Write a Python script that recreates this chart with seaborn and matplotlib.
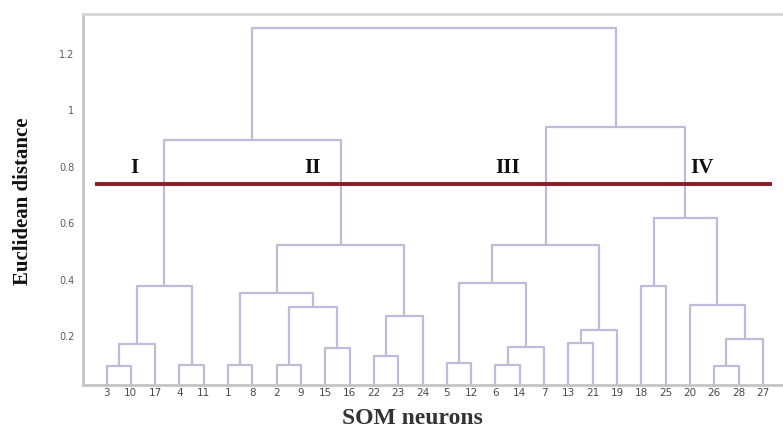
import matplotlib
matplotlib.use("Agg")
import matplotlib.pyplot as plt
import seaborn as sns
import pandas as pd

# ---- data ----
leaf_labels = [3, 10, 17, 4, 11, 1, 8, 2, 9, 15, 16, 22, 23, 24,
               5, 12, 6, 14, 7, 13, 21, 19, 18, 25, 20, 26, 28, 27]
# merges: children (leaf label as int, or earlier merge name) and height
merge_names = ["m1", "m2", "m3", "m4", "m5", "m6", "m7", "m8", "m9", "m10",
               "m11", "m12", "m13", "m14", "m15", "m16", "m17", "m18", "m19",
               "m20", "m21", "m22", "m23", "m24", "m25", "m26", "m27"]
merge_left = [3, "m1", 4, "m2", 1, 2, 15, "m6", "m5", 22,
              "m10", "m9", "m4", 5, 6, "m15", "m14", 13, "m18",
              "m17", 18, 26, "m22", 20, "m21", "m20", "m13"]
merge_right = [10, 17, 11, "m3", 8, 9, 16, "m7", "m8", 23,
               24, "m11", "m12", 12, 14, 7, "m16", 21, 19,
               "m19", 25, 28, 27, "m23", "m24", "m25", "m26"]
merge_height = [0.094, 0.172, 0.099, 0.377, 0.097, 0.097, 0.160, 0.303, 0.355, 0.131,
                0.272, 0.524, 0.894, 0.107, 0.097, 0.163, 0.389, 0.175, 0.223,
                0.522, 0.379, 0.096, 0.192, 0.310, 0.619, 0.940, 1.290]
cut_height = 0.739
cluster_names = ["I", "II", "III", "IV"]
cluster_label_x = [2.16, 9.49, 17.5, 25.5]
cluster_label_y = 0.797
y_ticks = [0.2, 0.4, 0.6, 0.8, 1.0, 1.2]
y_tick_labels = ["0.2", "0.4", "0.6", "0.8", "1", "1.2"]

# ---- build dendrogram segments from the merge tree ----
pos = {lab: i + 1 for i, lab in enumerate(leaf_labels)}
hgt = {lab: 0.0 for lab in leaf_labels}
rows = []
for name, a, b, h in zip(merge_names, merge_left, merge_right, merge_height):
    xa, xb = pos[a], pos[b]
    ya, yb = hgt[a], hgt[b]
    pts = [(xa, ya), (xa, h), (xb, h), (xb, yb)]
    for k, (px, py) in enumerate(pts):
        rows.append({"id": name, "order": k, "x": px, "y": py})
    pos[name] = (xa + xb) / 2
    hgt[name] = h
df = pd.DataFrame(rows)

sns.set_theme(style="white")
plt.rcParams["font.family"] = ["DejaVu Sans"]

W, H = 783, 428
fig = plt.figure(figsize=(W / 100, H / 100), dpi=100)
fig.patch.set_facecolor("white")
ax = fig.add_axes([82.7 / W, (H - 385) / H, 705 / W, 371 / H])

sns.lineplot(data=df, x="x", y="y", units="id", estimator=None, sort=False,
             color="#bdbddb", linewidth=1.6, ax=ax, legend=False)

ax.plot([0.52, 28.38], [cut_height, cut_height], color="#8c1c22", linewidth=2.8,
        solid_capstyle="butt")

for nm, cx in zip(cluster_names, cluster_label_x):
    ax.text(cx, cluster_label_y, nm, ha="center", va="center",
            family="Liberation Serif", fontweight="bold", fontsize=15, color="#111111")

ax.set_xlim(0.02, 29.02)
ax.set_ylim(0.028, 1.34)
ax.set_xticks(range(1, len(leaf_labels) + 1))
ax.set_xticklabels([str(v) for v in leaf_labels], fontsize=7.5, color="#4a4a4a")
ax.set_yticks(y_ticks)
ax.set_yticklabels(y_tick_labels, fontsize=7, color="#5a5a5a")
ax.tick_params(axis="x", length=0, pad=2)
ax.tick_params(axis="y", direction="in", length=4, width=1, color="#b8b8b8",
               pad=6, right=False)

for s in ["left", "bottom"]:
    ax.spines[s].set_color("#c4c4c4")
    ax.spines[s].set_linewidth(2)
ax.spines["top"].set_color("#d6d6d6")
ax.spines["top"].set_linewidth(2)
ax.spines["right"].set_visible(False)

ax.set_xlabel("SOM neurons", family="Liberation Serif", fontweight="bold",
              fontsize=17, color="#333333")
ax.xaxis.set_label_coords((412 - 82.7) / 705, -33 / 371)
ax.xaxis.label.set_verticalalignment("center")
ax.set_ylabel("Euclidean distance", family="Liberation Serif", fontweight="bold",
              fontsize=15, color="#111111")
ax.yaxis.set_label_coords((23 - 82.7) / 705, (385 - 201) / 371)
ax.yaxis.label.set_verticalalignment("center")

fig.savefig("out.png", dpi=100, facecolor="white")
